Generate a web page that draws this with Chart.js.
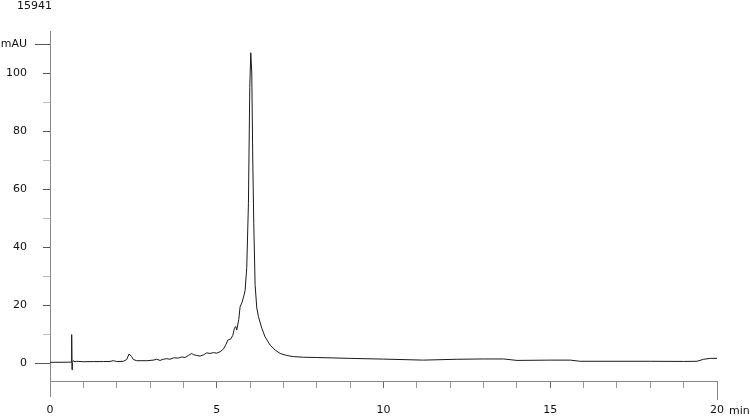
<!DOCTYPE html>
<html>
<head>
<meta charset="utf-8">
<script src="https://cdn.jsdelivr.net/npm/chart.js@4"></script>
<style>
  html, body { margin: 0; padding: 0; background: #fff; }
  #wrap { width: 750px; height: 417px; }
</style>
</head>
<body>
<div id="wrap"><canvas id="chrom"></canvas></div>
<script>
// retention times (min) and absorbance (mAU)
const times = [0, 0.3, 0.6, 0.64, 0.65, 0.66, 0.67, 0.7, 0.75, 0.8, 1.0, 1.3, 1.6, 1.8, 1.9, 2.0,
  2.2, 2.3, 2.37, 2.45, 2.5, 2.6, 2.9, 3.1, 3.2, 3.3, 3.4, 3.5, 3.6, 3.7, 3.85, 3.95, 4.05, 4.15,
  4.25, 4.3, 4.4, 4.5, 4.6, 4.7, 4.8, 4.9, 5.0, 5.1, 5.2, 5.28, 5.33, 5.42, 5.48, 5.53, 5.57, 5.6,
  5.66, 5.7, 5.76, 5.82, 5.85, 5.9, 5.95, 5.99, 6.02, 6.05, 6.08, 6.11, 6.15, 6.2, 6.25, 6.35,
  6.45, 6.6, 6.75, 6.9, 7.1, 7.3, 7.6, 8.0, 9.0, 10.0, 11.2, 12.2, 13.0, 13.6, 14.0, 15.0, 15.6,
  15.9, 17.0, 18.0, 19.0, 19.4, 19.6, 19.8, 20.0];
const mAU = [0.25, 0.25, 0.3, 0.3, 9.8, -2.3, 0.2, 0.8, 0.4, 0.6, 0.45, 0.5, 0.5, 0.55, 0.8, 0.5,
  0.6, 1.2, 3.1, 2.2, 1.2, 0.8, 0.8, 1.0, 1.3, 0.9, 1.3, 1.5, 1.3, 1.8, 1.7, 2.1, 1.9, 2.6,
  3.3, 2.9, 2.6, 2.4, 2.8, 3.5, 3.3, 3.6, 3.4, 3.9, 4.8, 6.5, 7.9, 8.3, 9.5, 12.0, 12.6, 11.4,
  15, 19.4, 21, 23.5, 25, 33, 55, 95, 107, 100, 70, 48, 27, 19, 16, 12,
  9, 6.2, 4.5, 3.3, 2.6, 2.2, 2.0, 1.9, 1.6, 1.35, 1.0, 1.3, 1.4, 1.4, 0.9, 1.0, 1.0,
  0.6, 0.6, 0.6, 0.55, 0.6, 1.3, 1.6, 1.6];
const sampleName = '15941';
const yUnit = 'mAU';
const xUnit = 'min';

const FONT = 'DejaVu Sans';

// extra axis bits: title, unit labels, long ticks
const extras = {
  id: 'extras',
  afterDraw(chart) {
    const ctx = chart.ctx;
    const x = chart.scales.x, y = chart.scales.y;
    ctx.save();
    ctx.strokeStyle = '#555';
    ctx.lineWidth = 1;
    ctx.beginPath();
    [0, 110].forEach(v => {
      const py = Math.round(y.getPixelForValue(v)) + 0.5;
      ctx.moveTo(35, py); ctx.lineTo(x.left, py);
    });
    ctx.stroke();
    ctx.strokeStyle = '#888';
    ctx.beginPath();
    const x0 = Math.round(x.getPixelForValue(0)) + 0.5;
    const x20 = Math.round(x.getPixelForValue(20)) + 0.5;
    ctx.moveTo(x0, y.bottom); ctx.lineTo(x0, 397);
    ctx.moveTo(x20, y.bottom); ctx.lineTo(x20, 400);
    ctx.stroke();
    ctx.fillStyle = '#111';
    ctx.font = '11px "' + FONT + '"';
    ctx.textBaseline = 'middle';
    ctx.textAlign = 'left';
    ctx.fillText(sampleName, 17, 6);
    ctx.fillText(xUnit, 729, 411);
    ctx.restore();
  }
};

new Chart(document.getElementById('chrom'), {
  type: 'line',
  data: {
    datasets: [{
      data: times.map((t, i) => ({x: t, y: mAU[i]})),
      borderColor: '#1a1a1a',
      borderWidth: 1,
      pointRadius: 0,
      tension: 0,
      fill: false
    }]
  },
  options: {
    responsive: true,
    maintainAspectRatio: false,
    animation: false,
    layout: {padding: {top: 31, right: 33, left: 0, bottom: 0}},
    plugins: {legend: {display: false}, tooltip: {enabled: false}},
    scales: {
      x: {
        type: 'linear',
        min: 0, max: 20,
        afterFit: s => { s.height = 36; },
        border: {color: '#888', width: 1},
        grid: {
          drawOnChartArea: false, drawTicks: true, tickLength: 7,
          color: c => (c.tick && c.tick.value % 5 === 0) ? '#666' : '#999'
        },
        ticks: {
          stepSize: 1, padding: 16, maxRotation: 0, autoSkip: false,
          color: '#111', font: {family: FONT, size: 11},
          callback: v => (v % 5 === 0 ? String(v) : '')
        }
      },
      y: {
        type: 'linear',
        min: -6.2, max: 114.5,
        afterFit: s => { s.width = 50; },
        border: {color: '#888', width: 1},
        grid: {
          drawOnChartArea: false, drawTicks: true, tickLength: 7,
          color: c => (c.tick && c.tick.value % 20 === 0) ? '#555' : '#bbb'
        },
        ticks: {
          stepSize: 10, includeBounds: false, padding: 16, autoSkip: false,
          color: '#111', font: {family: FONT, size: 11},
          callback: v => (v === 110 ? yUnit : (v % 20 === 0 ? String(v) : ''))
        }
      }
    }
  },
  plugins: [extras]
});
</script>
</body>
</html>
